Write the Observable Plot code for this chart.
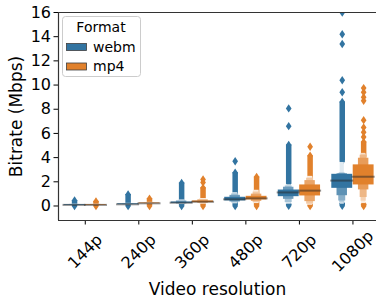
<!DOCTYPE html>
<html><head><meta charset="utf-8">
<script src="https://cdn.jsdelivr.net/npm/d3@7"></script>
<script src="https://cdn.jsdelivr.net/npm/@observablehq/plot@0.6"></script>
<style>body{margin:0;background:#fff} svg{display:block}</style>
</head><body><div id="chart"></div>
<script>
// ---- data ----
const resolutions = ["144p", "240p", "360p", "480p", "720p", "1080p"];
const formats = ["webm", "mp4"];
const yTicks = [0, 2, 4, 6, 8, 10, 12, 14, 16];

const mediansWebm = [0.09, 0.14, 0.27, 0.55, 1.12, 2.1];
const mediansMp4  = [0.09, 0.22, 0.35, 0.63, 1.27, 2.42];

// letter-value boxes, innermost first: [low, high]
const boxesWebm = [
  [[0.06, 0.12], [0.04, 0.15]],
  [[0.11, 0.18], [0.08, 0.22]],
  [[0.22, 0.33], [0.17, 0.42], [0.12, 0.5]],
  [[0.42, 0.72], [0.33, 0.88], [0.25, 1.0], [0.18, 1.1]],
  [[0.77, 1.32], [0.55, 1.55], [0.28, 1.65], [0.15, 1.75]],
  [[1.46, 2.62], [0.85, 2.66], [0.41, 2.7], [0.25, 2.74], [0.15, 3.6]]
];
const boxesMp4 = [
  [[0.06, 0.12], [0.04, 0.15]],
  [[0.19, 0.25], [0.15, 0.3]],
  [[0.28, 0.42], [0.22, 0.52], [0.15, 0.62]],
  [[0.5, 0.8], [0.38, 0.98], [0.28, 1.15], [0.2, 1.3]],
  [[0.83, 1.74], [0.36, 2.1], [0.15, 2.3], [0.06, 2.45]],
  [[1.74, 3.4], [1.33, 3.95], [0.7, 4.2], [0.4, 4.3], [0.2, 4.35]]
];

// dense runs of outliers: [low, high]
const stemsWebm = [
  [[0.0, 0.45]],
  [[0.0, 0.95]],
  [[0.0, 1.9]],
  [[0.0, 2.75]],
  [[0.02, 0.15], [1.85, 5.05]],
  [[0.02, 0.2], [3.7, 8.6]]
];
const stemsMp4 = [
  [[0.0, 0.38]],
  [[0.0, 0.6]],
  [[0.0, 1.5]],
  [[0.0, 2.4]],
  [[0.0, 0.1], [2.4, 4.15]],
  [[0.0, 0.15], [4.1, 5.3]]
];

// isolated outliers
const outliersWebm = [[], [], [], [3.7], [6.6, 8.07], [9.4, 10.4, 13.4, 14.2, 16.0]];
const outliersMp4  = [[], [], [1.95, 2.2], [], [4.9], [5.7, 6.1, 6.5, 7.1, 8.7, 9.0, 9.4, 9.75]];

// ---- styling ----
const palette = ["#3274a1", "#e1812c"];
const FONT = "DejaVu Sans";
const BOXW = 0.39;     // width of a hue box in category units
const OFFSET = 0.2;    // hue offset

const medians = [mediansWebm, mediansMp4];
const boxes = [boxesWebm, boxesMp4];
const stems = [stemsWebm, stemsMp4];
const outliers = [outliersWebm, outliersMp4];

const groups = [];
formats.forEach((fmt, f) => {
  resolutions.forEach((res, r) => {
    groups.push({fmt, f, r, x: r + (f === 0 ? -OFFSET : OFFSET),
      median: medians[f][r], boxes: boxes[f][r], stems: stems[f][r], outliers: outliers[f][r]});
  });
});

function levelColor(base, i, n) {
  const light = d3.interpolateRgb(base, "#ffffff")(0.85);
  const t = n > 1 ? i / (n - 1) : 0;
  return d3.interpolateRgb(base, light)(t);
}

const boxRows = [];
const stemRows = [];
const stemEnds = [];
const pointRows = [];
groups.forEach(g => {
  const n = g.boxes.length;
  g.boxes.forEach((b, i) => {
    const w = BOXW / (i + 1);
    boxRows.push({x1: g.x - w / 2, x2: g.x + w / 2, y1: b[0], y2: b[1], level: i, fill: levelColor(palette[g.f], i, n)});
  });
  g.stems.forEach(s => {
    stemRows.push({x: g.x, lo: s[0], hi: s[1], color: palette[g.f]});
    stemEnds.push({x: g.x, y: s[0], color: palette[g.f]});
    stemEnds.push({x: g.x, y: s[1], color: palette[g.f]});
  });
  g.outliers.forEach(v => pointRows.push({x: g.x, y: v, color: palette[g.f]}));
});
boxRows.sort((a, b) => b.level - a.level);

const thinDiamond = {
  draw(ctx, size) {
    const r = Math.sqrt(size / Math.PI);
    const w = r * 0.68;
    ctx.moveTo(0, -r); ctx.lineTo(w, 0); ctx.lineTo(0, r); ctx.lineTo(-w, 0); ctx.closePath();
  }
};

const chart = Plot.plot({
  width: 376,
  height: 303,
  marginTop: 12,
  marginLeft: 58,
  marginRight: 0,
  marginBottom: 83,
  style: {fontFamily: FONT, fontSize: "16px", color: "#000", background: "#fff"},
  color: {type: "identity"},
  x: {domain: [-0.5, 5.44], ticks: [0, 1, 2, 3, 4, 5], tickFormat: () => "", tickSize: 4.5, label: null},
  y: {domain: [-1.2, 16], ticks: yTicks, tickSize: 4.5, tickPadding: 3, label: null},
  marks: [
    Plot.ruleX(stemRows, {x: "x", y1: "lo", y2: "hi", stroke: "color", strokeWidth: 5.5}),
    Plot.dot(stemEnds, {x: "x", y: "y", fill: "color", symbol: thinDiamond, r: 4.2, stroke: null}),
    Plot.dot(pointRows, {x: "x", y: "y", fill: "color", symbol: thinDiamond, r: 4.2, stroke: null, clip: true}),
    Plot.rect(boxRows, {x1: "x1", x2: "x2", y1: "y1", y2: "y2", fill: "fill"}),
    Plot.ruleY(groups, {y: "median", x1: d => d.x - BOXW / 2 - 0.02, x2: d => d.x + BOXW / 2 + 0.02,
      stroke: "#262626", strokeOpacity: 0.5, strokeWidth: 2}),
    Plot.ruleX([-0.5], {stroke: "#333", strokeWidth: 1.2}),
    Plot.ruleY([16], {stroke: "#333", strokeWidth: 1.2}),
    Plot.ruleY([-1.2], {stroke: "#333", strokeWidth: 1.2}),
    Plot.text(resolutions, {x: (d, i) => i, frameAnchor: "bottom", dy: 31, rotate: -45, fontSize: 16,
      text: d => d, fill: "#000", textAnchor: "middle", lineAnchor: "middle"}),
    Plot.text(["Video resolution"], {frameAnchor: "bottom", dy: 69.5, fontSize: 17, text: d => d, fill: "#000",
      textAnchor: "middle", lineAnchor: "middle"}),
    Plot.text(["Bitrate (Mbps)"], {frameAnchor: "left", dx: -41.5, rotate: -90, fontSize: 17, text: d => d, fill: "#000",
      textAnchor: "middle", lineAnchor: "middle"})
  ]
});

// legend
const svg = d3.select(chart);
const lg = svg.append("g").attr("font-family", FONT).attr("text-anchor", "start");
lg.append("rect").attr("x", 62.5).attr("y", 16.5).attr("width", 78).attr("height", 60).attr("rx", 3)
  .attr("fill", "#fff").attr("fill-opacity", 0.8).attr("stroke", "#cccccc");
lg.append("text").attr("x", 101).attr("y", 32).attr("text-anchor", "middle").attr("font-size", "14px").attr("fill", "#000").text("Format");
formats.forEach((f, i) => {
  lg.append("rect").attr("x", 66.5).attr("y", 43.5 + 19.5 * i).attr("width", 20).attr("height", 7)
    .attr("fill", palette[i]).attr("stroke", "#3f3f3f").attr("stroke-width", 0.8);
  lg.append("text").attr("x", 93).attr("y", 51.5 + 19.5 * i).attr("text-anchor", "start")
    .attr("font-size", "14px").attr("fill", "#000").text(f);
});

document.getElementById("chart").appendChild(chart);
</script></body></html>
